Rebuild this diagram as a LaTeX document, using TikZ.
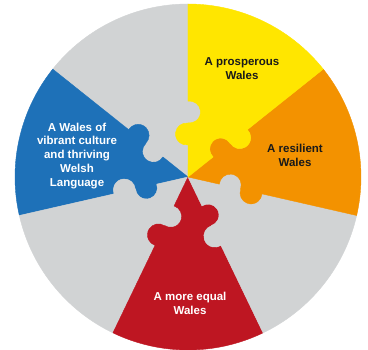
\documentclass[tikz,border=0pt]{standalone}
\usepackage{fontspec}
\setmainfont{Liberation Sans}
\usetikzlibrary{calc}
\definecolor{pzgray}{RGB}{209,211,212}
\definecolor{pzyellow}{RGB}{255,230,0}
\definecolor{pzorange}{RGB}{243,146,0}
\definecolor{pzred}{RGB}{190,22,34}
\definecolor{pzblue}{RGB}{30,113,184}
\definecolor{pzdark}{RGB}{26,26,26}
\begin{document}
\begin{tikzpicture}[x=1pt,y=1pt,
  pztext/.style={align=center,font=\fontsize{11.5}{13.8}\selectfont\bfseries,inner sep=0pt},
  piece/.style={fill=#1,draw=#1,line width=0.4pt,line join=round}]
\fill[white] (0,0) rectangle (368,350);
\useasboundingbox (0,0) rectangle (368,350);
\coordinate (C) at (188,173);
\def\bt{7.84}
\def\kr{11pt}
\foreach \j/\col in {0/pzgray,1/pzblue,2/pzgray,3/pzred,4/pzgray,5/pzorange,6/pzyellow}{
  \pgfmathsetmacro\a{90+\j*360/7}
  \pgfmathsetmacro\b{\a+360/7}
  \path[piece=\col] (C)
    -- ($(C)+(\a:32.103pt)$) arc[start angle={\a+180+\bt}, end angle={\a-\bt}, radius=\kr]
    -- ($(C)+(\a:54.103pt)$) arc[start angle={\a+180-\bt}, end angle={\a+360+\bt}, radius=\kr]
    -- ($(C)+(\a:173pt)$) arc[start angle=\a, end angle=\b, radius=173pt]
    -- ($(C)+(\b:75.897pt)$) arc[start angle={\b+\bt}, end angle={\b-180-\bt}, radius=\kr]
    -- ($(C)+(\b:53.897pt)$) arc[start angle={\b-\bt}, end angle={\b+180+\bt}, radius=\kr]
    -- cycle;
}
\node[pztext,text=pzdark] (yw) at (242,281) {A prosperous\\Wales};
\node[pztext,text=pzdark] (ow) at (295,195) {A resilient\\Wales};
\node[pztext,text=white] (bw) at (77,194.3) {A Wales of\\vibrant culture\\and thriving\\Welsh\\Language};
\node[pztext,text=white] (rw) at (190,46.7) {A more equal\\Wales};
\end{tikzpicture}
\end{document}
